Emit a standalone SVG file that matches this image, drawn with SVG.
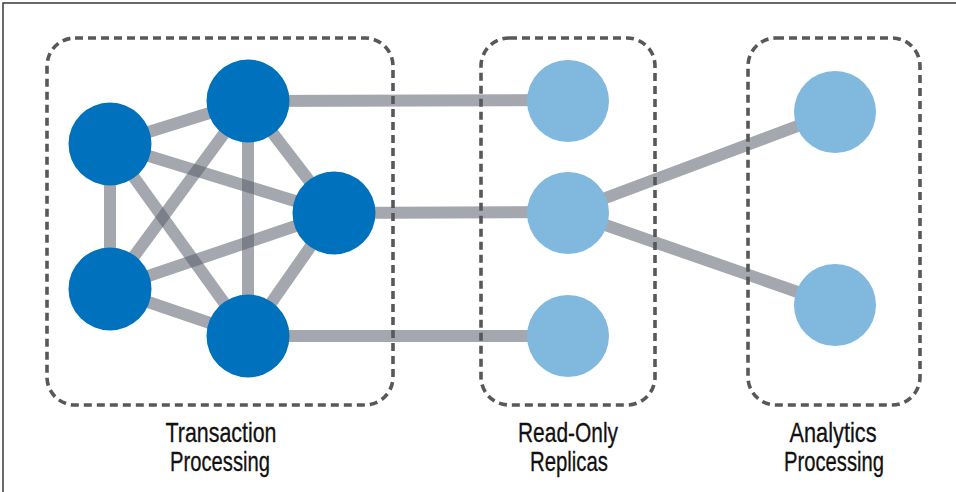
<svg xmlns="http://www.w3.org/2000/svg" width="956" height="492" viewBox="0 0 956 492">
  <style>
    .frame { fill: #ffffff; stroke: #3a3a3a; stroke-width: 1.5; }
    .edge { stroke: #5a5f6b; stroke-opacity: 0.55; stroke-width: 12; fill: none; }
    .box { fill: none; stroke: #58585a; stroke-width: 3.6; stroke-dasharray: 8 5; }
    .primary { fill: #0071bc; }
    .replica { fill: #80b8de; }
    .label { font-family: "Liberation Sans", Arial, sans-serif; font-size: 28px; fill: #111111; stroke: #111111; stroke-width: 0.3; text-anchor: middle; }
  </style>
  <rect class="frame" x="3" y="3" width="960" height="500"/>

  <g id="connectors">
    <line class="edge" x1="110" y1="144" x2="248" y2="101"/>
    <line class="edge" x1="110" y1="144" x2="334" y2="213"/>
    <line class="edge" x1="110" y1="144" x2="110" y2="289"/>
    <line class="edge" x1="110" y1="144" x2="248" y2="336"/>
    <line class="edge" x1="248" y1="101" x2="334" y2="213"/>
    <line class="edge" x1="248" y1="101" x2="110" y2="289"/>
    <line class="edge" x1="248" y1="101" x2="248" y2="336"/>
    <line class="edge" x1="334" y1="213" x2="110" y2="289"/>
    <line class="edge" x1="334" y1="213" x2="248" y2="336"/>
    <line class="edge" x1="110" y1="289" x2="248" y2="336"/>
    <line class="edge" x1="248" y1="101" x2="568" y2="100"/>
    <line class="edge" x1="334" y1="213" x2="568" y2="212"/>
    <line class="edge" x1="248" y1="336" x2="568" y2="336"/>
    <line class="edge" x1="568" y1="212" x2="835" y2="112"/>
    <line class="edge" x1="568" y1="212" x2="835" y2="305"/>
  </g>

  <g id="group-transaction">
    <rect class="box" x="47" y="38" width="346" height="367" rx="28" ry="28"/>
    <text class="label" x="221" y="442" textLength="111" lengthAdjust="spacingAndGlyphs">Transaction</text>
    <text class="label" x="220" y="471" textLength="100" lengthAdjust="spacingAndGlyphs">Processing</text>
  </g>
  <g id="group-replicas">
    <rect class="box" x="481" y="38" width="174" height="367" rx="28" ry="28"/>
    <text class="label" x="568" y="442" textLength="100" lengthAdjust="spacingAndGlyphs">Read-Only</text>
    <text class="label" x="569" y="471" textLength="78" lengthAdjust="spacingAndGlyphs">Replicas</text>
  </g>
  <g id="group-analytics">
    <rect class="box" x="748" y="38" width="172" height="367" rx="28" ry="28"/>
    <text class="label" x="833" y="442" textLength="87" lengthAdjust="spacingAndGlyphs">Analytics</text>
    <text class="label" x="834" y="471" textLength="100" lengthAdjust="spacingAndGlyphs">Processing</text>
  </g>

  <g id="tx1"><circle class="primary" cx="110" cy="144" r="41.5"/></g>
  <g id="tx2"><circle class="primary" cx="248" cy="101" r="41.5"/></g>
  <g id="tx3"><circle class="primary" cx="334" cy="213" r="41.5"/></g>
  <g id="tx4"><circle class="primary" cx="110" cy="289" r="41.5"/></g>
  <g id="tx5"><circle class="primary" cx="248" cy="336" r="41.5"/></g>

  <g id="replica1"><circle class="replica" cx="568" cy="101" r="41"/></g>
  <g id="replica2"><circle class="replica" cx="568" cy="213" r="41"/></g>
  <g id="replica3"><circle class="replica" cx="568" cy="336" r="41"/></g>

  <g id="analytics1"><circle class="replica" cx="835" cy="112" r="41"/></g>
  <g id="analytics2"><circle class="replica" cx="835" cy="305" r="41"/></g>
</svg>
